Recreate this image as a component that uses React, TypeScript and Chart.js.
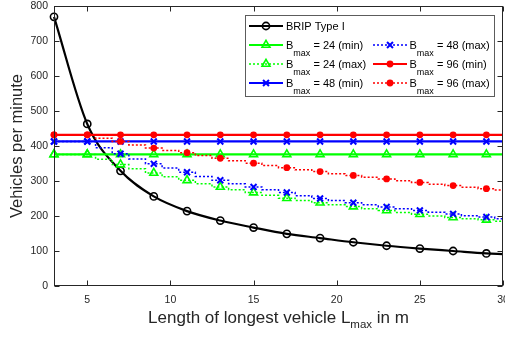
import React, { useEffect, useRef } from 'react';
import { Chart, registerables } from 'chart.js';

Chart.register(...registerables);

// Lengths (m) used by the smooth curve and the constant (min) lines
const MARKED_LENGTHS = [3, 5, 7, 9, 11, 13, 15, 17, 19, 21, 23, 25, 27, 29, 30];
// Lengths (m) used by the stepped (max) curves
const UNIT_LENGTHS = [3, 4, 5, 6, 7, 8, 9, 10, 11, 12, 13, 14, 15, 16, 17, 18, 19, 20, 21, 22, 23, 24, 25, 26, 27, 28, 29, 30];

const BRIP_TYPE_I = [769, 463, 329, 256, 214, 187, 167, 149, 137, 125, 115, 107, 100, 93, 91];
const B24_MIN = [376, 376, 376, 376, 376, 376, 376, 376, 376, 376, 376, 376, 376, 376, 376];
const B48_MIN = [413, 413, 413, 413, 413, 413, 413, 413, 413, 413, 413, 413, 413, 413, 413];
const B96_MIN = [432, 432, 432, 432, 432, 432, 432, 432, 432, 432, 432, 432, 432, 432, 432];

const B24_MAX = [376, 376, 376, 362, 347, 335, 323, 312, 302, 292, 283, 275, 267, 259, 251, 244, 238, 232, 227, 221, 216, 210, 205, 200, 196, 192, 189, 185];
const B48_MAX = [413, 413, 413, 395, 378, 363, 349, 337, 325, 313, 302, 292, 283, 275, 267, 258, 250, 244, 238, 232, 226, 221, 216, 211, 206, 201, 197, 192];
const B96_MAX = [432, 432, 432, 422, 413, 403, 394, 387, 381, 373, 365, 358, 351, 344, 338, 332, 327, 321, 316, 311, 306, 301, 296, 291, 287, 282, 278, 274];

const X_TICKS = [5, 10, 15, 20, 25, 30];
const Y_TICKS = [0, 100, 200, 300, 400, 500, 600, 700, 800];

const AXIS_COLOR = '#262626';
const FONT = '"Liberation Sans", Arial, sans-serif';

type Marker = 'circle' | 'triangle' | 'crossRot' | 'dot';

interface Series {
  name: [string, string, string];
  xs: number[];
  ys: number[];
  color: string;
  dotted: boolean;
  marker: Marker;
  smooth?: boolean;
}

const SERIES: Series[] = [
  { name: ['BRIP Type I', '', ''], xs: MARKED_LENGTHS, ys: BRIP_TYPE_I, color: '#000000', dotted: false, marker: 'circle', smooth: true },
  { name: ['B', 'max', ' = 24 (min)'], xs: MARKED_LENGTHS, ys: B24_MIN, color: '#00ff00', dotted: false, marker: 'triangle' },
  { name: ['B', 'max', ' = 24 (max)'], xs: UNIT_LENGTHS, ys: B24_MAX, color: '#00ff00', dotted: true, marker: 'triangle' },
  { name: ['B', 'max', ' = 48 (min)'], xs: MARKED_LENGTHS, ys: B48_MIN, color: '#0000ff', dotted: false, marker: 'crossRot' },
  { name: ['B', 'max', ' = 48 (max)'], xs: UNIT_LENGTHS, ys: B48_MAX, color: '#0000ff', dotted: true, marker: 'crossRot' },
  { name: ['B', 'max', ' = 96 (min)'], xs: MARKED_LENGTHS, ys: B96_MIN, color: '#ff0000', dotted: false, marker: 'dot' },
  { name: ['B', 'max', ' = 96 (max)'], xs: UNIT_LENGTHS, ys: B96_MAX, color: '#ff0000', dotted: true, marker: 'dot' },
];

const MARKER_RADIUS: Record<Marker, number> = { circle: 3.6, triangle: 4.6, crossRot: 4.2, dot: 3.4 };

function drawMarker(ctx: CanvasRenderingContext2D, m: Marker, x: number, y: number, color: string) {
  const r = MARKER_RADIUS[m];
  ctx.save();
  ctx.setLineDash([]);
  ctx.strokeStyle = color;
  ctx.fillStyle = color;
  ctx.beginPath();
  if (m === 'circle') {
    ctx.lineWidth = 1.6;
    ctx.arc(x, y, r, 0, Math.PI * 2);
    ctx.stroke();
  } else if (m === 'triangle') {
    ctx.lineWidth = 1.6;
    let a = 0;
    ctx.moveTo(x + Math.sin(a) * r, y - Math.cos(a) * r);
    a += (Math.PI * 2) / 3;
    ctx.lineTo(x + Math.sin(a) * r, y - Math.cos(a) * r);
    a += (Math.PI * 2) / 3;
    ctx.lineTo(x + Math.sin(a) * r, y - Math.cos(a) * r);
    ctx.closePath();
    ctx.stroke();
  } else if (m === 'crossRot') {
    ctx.lineWidth = 2;
    const o = Math.cos(Math.PI / 4) * r;
    ctx.moveTo(x - o, y - o);
    ctx.lineTo(x + o, y + o);
    ctx.moveTo(x - o, y + o);
    ctx.lineTo(x + o, y - o);
    ctx.stroke();
  } else {
    ctx.arc(x, y, r, 0, Math.PI * 2);
    ctx.fill();
  }
  ctx.restore();
}

// Draws text with an optional subscript part; returns the end x
function drawSubText(
  ctx: CanvasRenderingContext2D,
  parts: [string, string, string],
  x: number,
  y: number,
  size: number,
  subSize: number,
  subDrop: number,
) {
  ctx.font = `${size}px ${FONT}`;
  ctx.fillText(parts[0], x, y);
  let cx = x + ctx.measureText(parts[0]).width;
  if (parts[1]) {
    ctx.font = `${subSize}px ${FONT}`;
    ctx.fillText(parts[1], cx, y + subDrop);
    cx += ctx.measureText(parts[1]).width;
  }
  ctx.font = `${size}px ${FONT}`;
  ctx.fillText(parts[2], cx, y);
  return cx + ctx.measureText(parts[2]).width;
}

function measureSubText(ctx: CanvasRenderingContext2D, parts: [string, string, string], size: number, subSize: number) {
  ctx.font = `${size}px ${FONT}`;
  let w = ctx.measureText(parts[0]).width + ctx.measureText(parts[2]).width;
  ctx.font = `${subSize}px ${FONT}`;
  w += ctx.measureText(parts[1]).width;
  return w;
}

const frameAndLegend = {
  id: 'frameAndLegend',
  afterDraw(chart: Chart) {
    const { ctx, chartArea: a } = chart;
    const xs = chart.scales.x;
    const ys = chart.scales.y;
    const L = Math.round(a.left) + 0.5;
    const R = Math.round(a.right) - 0.5;
    const T = Math.round(a.top) + 0.5;
    const B = Math.round(a.bottom) - 0.5;
    const tick = 5;

    ctx.save();
    ctx.strokeStyle = AXIS_COLOR;
    ctx.lineWidth = 1;
    ctx.strokeRect(L, T, R - L, B - T);
    ctx.beginPath();
    for (const v of X_TICKS) {
      const px = Math.round(xs.getPixelForValue(v)) + 0.5;
      ctx.moveTo(px, B);
      ctx.lineTo(px, B - tick);
      ctx.moveTo(px, T);
      ctx.lineTo(px, T + tick);
    }
    for (const v of Y_TICKS) {
      const py = Math.round(ys.getPixelForValue(v)) + 0.5;
      ctx.moveTo(L, py);
      ctx.lineTo(L + tick, py);
      ctx.moveTo(R, py);
      ctx.lineTo(R - tick, py);
    }
    ctx.stroke();

    // x-axis title with subscript
    const xt: [string, string, string] = ['Length of longest vehicle L', 'max', ' in m'];
    const tw = measureSubText(ctx, xt, 17, 11.5);
    ctx.fillStyle = AXIS_COLOR;
    ctx.textBaseline = 'alphabetic';
    ctx.textAlign = 'left';
    drawSubText(ctx, xt, (a.left + a.right) / 2 - tw / 2, 323, 17, 11.5, 4.5);

    // legend
    const bx = 245.5, by = 15.5, bw = 249, bh = 81;
    ctx.fillStyle = '#ffffff';
    ctx.fillRect(bx, by, bw, bh);
    ctx.strokeStyle = 'rgba(38,38,38,0.75)';
    ctx.lineWidth = 1;
    ctx.strokeRect(bx, by, bw, bh);

    const rows = [26, 45, 64, 83];
    const cols = [
      { x0: 249, x1: 283, tx: 286 },
      { x0: 373, x1: 407, tx: 409.5 },
    ];
    SERIES.forEach((s, i) => {
      const col = cols[i < 4 ? 0 : 1];
      const y = rows[i < 4 ? i : i - 3];
      ctx.save();
      ctx.strokeStyle = s.color;
      ctx.lineWidth = s.dotted ? 1.5 : 2.2;
      ctx.setLineDash(s.dotted ? [2, 2] : []);
      ctx.beginPath();
      ctx.moveTo(col.x0, y);
      ctx.lineTo(col.x1, y);
      ctx.stroke();
      ctx.restore();
      drawMarker(ctx, s.marker, (col.x0 + col.x1) / 2, y, s.color);
      ctx.fillStyle = '#000000';
      ctx.textBaseline = 'alphabetic';
      drawSubText(ctx, s.name, col.tx, y + 4, 11, 9, 6.5);
    });
    ctx.restore();
  },
};

export default function App() {
  const canvasRef = useRef<HTMLCanvasElement | null>(null);

  useEffect(() => {
    if (!canvasRef.current) return;
    const n = SERIES.length;
    const datasets = SERIES.map((s, i) => {
      const r = MARKER_RADIUS[s.marker];
      return {
        label: s.name.join(''),
        data: s.xs.map((x, k) => ({ x, y: s.ys[k] })),
        borderColor: s.color,
        backgroundColor: s.marker === 'dot' ? s.color : 'rgba(0,0,0,0)',
        borderWidth: s.dotted ? 1.5 : 2.2,
        borderDash: s.dotted ? [2, 2] : [],
        stepped: s.dotted ? ('middle' as const) : false,
        cubicInterpolationMode: s.smooth ? ('monotone' as const) : ('default' as const),
        tension: s.smooth ? 0.4 : 0,
        pointStyle: s.marker === 'dot' ? 'circle' : s.marker,
        pointRadius: (c: any) => (c.raw && c.raw.x % 2 === 1 ? r : 0),
        pointBorderColor: s.color,
        pointBackgroundColor: s.marker === 'dot' ? s.color : 'rgba(0,0,0,0)',
        pointBorderWidth: s.marker === 'crossRot' ? 2 : s.marker === 'dot' ? 0 : 1.6,
        clip: false as const,
        order: n - i,
      };
    });

    const chart = new Chart(canvasRef.current, {
      type: 'line',
      data: { datasets },
      options: {
        animation: false,
        responsive: false,
        events: [],
        layout: { autoPadding: false, padding: { top: 6, right: 2, left: 0, bottom: 0 } },
        plugins: { legend: { display: false }, tooltip: { enabled: false } },
        scales: {
          x: {
            type: 'linear',
            min: 3,
            max: 30,
            grid: { display: false, drawTicks: false },
            border: { display: false },
            afterBuildTicks: (sc: any) => {
              sc.ticks = X_TICKS.map((v) => ({ value: v }));
            },
            afterFit: (sc: any) => {
              sc.height = 51;
              sc.paddingLeft = 0;
              sc.paddingRight = 0;
            },
            ticks: {
              color: AXIS_COLOR,
              font: { family: FONT, size: 10.5 },
              padding: 8,
              maxRotation: 0,
              autoSkip: false,
            },
          },
          y: {
            type: 'linear',
            min: 0,
            max: 800,
            grid: { display: false, drawTicks: false },
            border: { display: false },
            afterBuildTicks: (sc: any) => {
              sc.ticks = Y_TICKS.map((v) => ({ value: v }));
            },
            afterFit: (sc: any) => {
              sc.width = 54;
              sc.paddingTop = 0;
              sc.paddingBottom = 0;
            },
            ticks: {
              color: AXIS_COLOR,
              font: { family: FONT, size: 10.5 },
              padding: 6,
            },
            title: {
              display: true,
              text: 'Vehicles per minute',
              color: AXIS_COLOR,
              font: { family: FONT, size: 16.5 },
              padding: { top: 8, bottom: 0 },
            },
          },
        },
      },
      plugins: [frameAndLegend],
    });
    return () => chart.destroy();
  }, []);

  return (
    <div style={{ position: 'fixed', left: 0, top: 0, width: 505, height: 337, background: '#ffffff' }}>
      <canvas ref={canvasRef} width={505} height={337} style={{ display: 'block' }} />
    </div>
  );
}
